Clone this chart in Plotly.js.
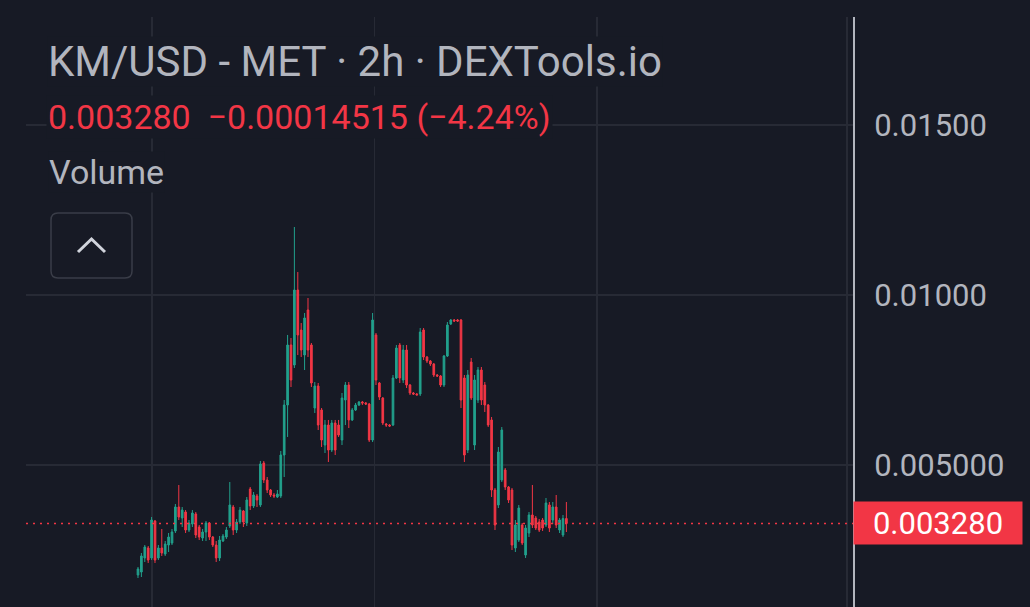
<!DOCTYPE html>
<html>
<head>
<meta charset="utf-8">
<script src="https://cdn.plot.ly/plotly-3.0.1.min.js"></script>
<style>
html,body{margin:0;padding:0;background:#171a25;}
#chart{width:1030px;height:607px;}
</style>
</head>
<body>
<div id="chart"></div>
<script>
// 2h candles, KM/USD (values in USD)
const openP = [0.001765,0.001853,0.002265,0.002559,0.002265,0.003353,0.002265,0.002559,0.002382,0.002647,
0.002706,0.003059,0.003765,0.003441,0.003618,0.003088,0.003265,0.003559,0.003176,0.002853,
0.003029,0.003294,0.002882,0.002647,0.002265,0.002765,0.002882,0.003206,0.003765,0.003088,
0.003324,0.003647,0.003294,0.004294,0.003794,0.004088,0.003824,0.005059,0.004559,0.004265,
0.004118,0.004059,0.004088,0.005294,0.006765,0.008529,0.007941,0.010147,0.008971,0.008235,
0.009559,0.008529,0.006676,0.007324,0.006618,0.005588,0.006176,0.005441,0.006235,0.006176,
0.005735,0.006912,0.007353,0.006324,0.006618,0.006765,0.006853,0.006824,0.006794,0.005735,
0.008824,0.007412,0.006971,0.006206,0.006176,0.006176,0.007559,0.008529,0.007500,0.008382,
0.007353,0.007118,0.007088,0.007088,0.008971,0.008176,0.008059,0.007971,0.007647,0.007618,
0.007353,0.008206,0.009147,0.009265,0.009265,0.009265,0.007559,0.005441,0.008029,0.005588,
0.006912,0.007794,0.007353,0.006765,0.006324,0.004265,0.003824,0.004559,0.004853,0.004353,
0.004265,0.002559,0.002794,0.003235,0.002353,0.003000,0.003529,0.003441,0.003324,0.003382,
0.003235,0.003824,0.003382,0.003765,0.003088,0.002941,0.003425];
const highP = [0.002000,0.002412,0.002647,0.002618,0.003471,0.003382,0.002647,0.003118,0.002765,0.003000,
0.003118,0.003853,0.004412,0.003765,0.003676,0.003382,0.003676,0.003618,0.003235,0.003118,
0.003353,0.003324,0.002912,0.002765,0.002912,0.002971,0.003176,0.004500,0.003824,0.003412,
0.003765,0.003676,0.004059,0.004353,0.004206,0.004147,0.005118,0.005118,0.004647,0.004294,
0.004176,0.004265,0.005412,0.006912,0.008824,0.008735,0.012000,0.010676,0.009176,0.009471,
0.009912,0.008588,0.007441,0.007412,0.006676,0.006324,0.006324,0.006324,0.006324,0.006324,
0.007118,0.007441,0.007441,0.006676,0.006824,0.006882,0.006882,0.006853,0.006824,0.009471,
0.008882,0.007441,0.007000,0.006235,0.006206,0.007647,0.008529,0.008588,0.008529,0.008529,
0.007382,0.007147,0.007118,0.009029,0.009029,0.008206,0.008088,0.008000,0.007676,0.007647,
0.008235,0.009206,0.009294,0.009294,0.009294,0.009294,0.007647,0.007794,0.008147,0.007647,
0.007882,0.007882,0.007441,0.006794,0.006412,0.004324,0.005529,0.006118,0.004912,0.004382,
0.004324,0.003382,0.003824,0.003294,0.003235,0.003618,0.004412,0.003500,0.003412,0.003441,
0.004029,0.003912,0.003912,0.004118,0.003441,0.003529,0.003912];
const lowP = [0.001676,0.001706,0.002147,0.002118,0.002206,0.002118,0.002206,0.002324,0.002324,0.002441,
0.002647,0.003000,0.003382,0.003176,0.003000,0.003029,0.003176,0.002853,0.002794,0.002765,
0.002765,0.002794,0.002588,0.002147,0.002176,0.002735,0.002824,0.003147,0.002941,0.003000,
0.003265,0.003176,0.003206,0.003676,0.003735,0.003765,0.003765,0.004471,0.004176,0.004059,
0.004029,0.004029,0.004029,0.004647,0.005824,0.007294,0.007853,0.008235,0.008176,0.007794,
0.008176,0.007294,0.006529,0.006029,0.005529,0.005353,0.005088,0.005382,0.005294,0.005824,
0.005588,0.006176,0.006088,0.006294,0.006588,0.006735,0.006765,0.006765,0.005676,0.005676,
0.007353,0.006912,0.006176,0.006118,0.006118,0.006147,0.007529,0.007412,0.007412,0.007265,
0.007059,0.007059,0.007059,0.007029,0.008088,0.008000,0.007912,0.007588,0.007588,0.007294,
0.007294,0.008176,0.009118,0.009206,0.009206,0.006676,0.005088,0.005353,0.006912,0.005441,
0.006824,0.006765,0.006559,0.006118,0.004059,0.003088,0.003735,0.004500,0.004265,0.003882,
0.002500,0.002441,0.002735,0.002647,0.002265,0.002882,0.003147,0.003088,0.003029,0.003059,
0.003176,0.003029,0.003265,0.003147,0.003000,0.002882,0.003029];
const closeP = [0.001941,0.002324,0.002588,0.002206,0.003382,0.002206,0.002559,0.002412,0.002676,0.002882,
0.003029,0.003765,0.003471,0.003676,0.003088,0.003294,0.003588,0.002941,0.002882,0.003029,
0.003294,0.002882,0.002647,0.002265,0.002794,0.002912,0.003088,0.003824,0.003088,0.003324,
0.003676,0.003324,0.003971,0.003794,0.004118,0.003971,0.005029,0.004559,0.004265,0.004118,
0.004088,0.004147,0.005294,0.006765,0.008529,0.007500,0.010147,0.008824,0.008382,0.009324,
0.008382,0.007412,0.007324,0.006176,0.005735,0.006176,0.005441,0.006235,0.005441,0.005882,
0.006971,0.007353,0.006324,0.006618,0.006765,0.006853,0.006824,0.006794,0.005735,0.009265,
0.007500,0.007000,0.006235,0.006176,0.006147,0.007559,0.008441,0.007559,0.008382,0.007353,
0.007118,0.007088,0.007059,0.008912,0.008176,0.008059,0.007971,0.007647,0.007618,0.007353,
0.008206,0.009118,0.009265,0.009235,0.009235,0.006912,0.005294,0.007647,0.006971,0.007500,
0.007794,0.006912,0.006765,0.006176,0.004265,0.003235,0.005382,0.006029,0.004353,0.003971,
0.002647,0.003235,0.003735,0.002706,0.003147,0.003529,0.003235,0.003147,0.003088,0.003147,
0.003882,0.003147,0.003765,0.003235,0.003382,0.003425,0.003280];

const lastPrice = 0.003280;
const priceTicks = [0.005, 0.010, 0.015];
const priceTickText = ["0.005000", "0.01000", "0.01500"];
const timeGrid = [4.1, 69.6, 135, 208.5];

const titleText = "KM/USD - MET · 2h · DEXTools.io";
const changeText = "0.003280  −0.00014515 (−4.24%)";
const volumeText = "Volume";

const BG = "#171a25", GRID = "#272a35", UP = "#22a08c", DOWN = "#f23645", TXT = "#b2b5be";
const L = 26, T = 17, W = 827, H = 590;
const px = p => (p - L) / W;
const py = p => (T + H - p) / H;

const idx = closeP.map((_, i) => i);

const trace = {
  type: "candlestick",
  x: idx, open: openP, high: highP, low: lowP, close: closeP,
  increasing: {line: {color: UP, width: 1}, fillcolor: UP},
  decreasing: {line: {color: DOWN, width: 1}, fillcolor: DOWN},
  whiskerwidth: 0,
  hoverinfo: "skip"
};

// rounded rect for the collapse button
function rrect(x0, y0, x1, y1, r) {
  const rx = r / W, ry = r / H;
  const a = px(x0), b = px(x1), top = py(y0), bot = py(y1);
  return `M ${a + rx} ${top} L ${b - rx} ${top} Q ${b} ${top} ${b} ${top - ry} L ${b} ${bot + ry} Q ${b} ${bot} ${b - rx} ${bot} L ${a + rx} ${bot} Q ${a} ${bot} ${a} ${bot + ry} L ${a} ${top - ry} Q ${a} ${top} ${a + rx} ${top} Z`;
}

const layout = {
  width: 1030, height: 607,
  margin: {l: L, r: 1030 - L - W, t: T, b: 607 - T - H, pad: 0},
  paper_bgcolor: BG, plot_bgcolor: BG,
  showlegend: false,
  font: {family: "Roboto, sans-serif", color: TXT},
  xaxis: {
    range: [-32.94, 210.3],
    rangeslider: {visible: false},
    showticklabels: false, ticks: "",
    tickmode: "array", tickvals: timeGrid,
    showgrid: true, gridcolor: GRID, gridwidth: 1.5,
    zeroline: false, showline: false, fixedrange: true
  },
  yaxis: {
    side: "right",
    range: [0.0008235, 0.0181765],
    tickmode: "array", tickvals: priceTicks, ticktext: priceTickText,
    ticks: "", ticklabelstandoff: 13,
    tickfont: {size: 31, color: TXT, family: "Roboto, sans-serif"},
    showgrid: true, gridcolor: GRID, gridwidth: 1.5,
    zeroline: false,
    showline: true, linecolor: "#b2b5be", linewidth: 2,
    fixedrange: true
  },
  shapes: [
    {type: "line", xref: "paper", yref: "y", x0: 0, x1: 1, y0: lastPrice, y1: lastPrice,
     line: {color: DOWN, width: 1.5, dash: "2px,5px"}},
    {type: "path", xref: "paper", yref: "paper", path: rrect(51, 213, 132, 278, 7),
     line: {color: "#3a3d48", width: 1.5}, fillcolor: BG},
    {type: "path", xref: "paper", yref: "paper",
     path: `M ${px(78)} ${py(252)} L ${px(91.5)} ${py(239)} L ${px(105)} ${py(252)}`,
     line: {color: "#d1d4dc", width: 3}}
  ],
  annotations: [
    {xref: "paper", yref: "paper", x: px(47), y: py(61), xanchor: "left", yanchor: "middle",
     text: titleText, showarrow: false, font: {size: 42, color: TXT, family: "Roboto, sans-serif"},
     bgcolor: BG, borderpad: 0},
    {xref: "paper", yref: "paper", x: px(46), y: py(117), xanchor: "left", yanchor: "middle",
     text: changeText, showarrow: false, font: {size: 34, color: "#f23645", family: "Roboto, sans-serif"},
     bgcolor: BG, borderpad: 1},
    {xref: "paper", yref: "paper", x: px(48), y: py(172), xanchor: "left", yanchor: "middle",
     text: volumeText, showarrow: false, font: {size: 34, color: TXT, family: "Roboto, sans-serif"},
     bgcolor: BG, borderpad: 0},
    {xref: "paper", yref: "y", x: 1, y: lastPrice, xanchor: "left", yanchor: "middle",
     text: lastPrice.toFixed(6), showarrow: false, width: 166, height: 40, align: "center",
     font: {size: 31, color: "#ffffff", family: "Roboto, sans-serif"},
     bgcolor: DOWN, borderpad: 1}
  ]
};

Plotly.newPlot("chart", [trace], layout, {staticPlot: true, displayModeBar: false});
</script>
</body>
</html>
